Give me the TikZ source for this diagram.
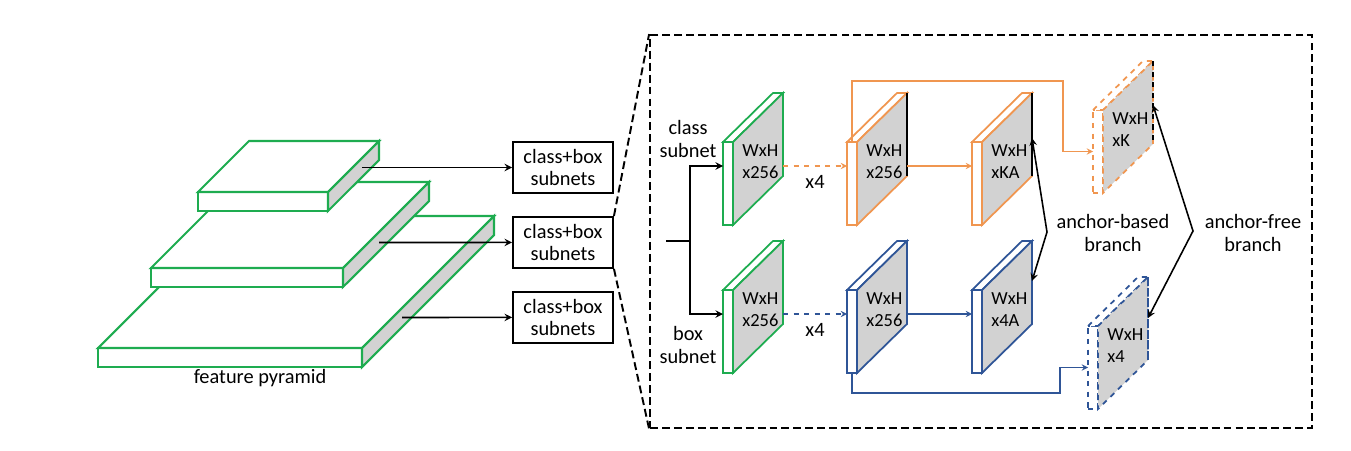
\documentclass[tikz,border=0pt]{standalone}
\usepackage{fontspec}
\setmainfont{Carlito}
\usepackage{tikz}
\usetikzlibrary{positioning}
\definecolor{mapgreen}{RGB}{30,172,80}
\definecolor{maporange}{RGB}{240,150,80}
\definecolor{mapblue}{RGB}{47,85,151}
\definecolor{facegray}{RGB}{210,210,210}

\begin{document}
\begin{tikzpicture}[
    % one unit is one pixel of the original figure
    x=0.02cm, y=-0.02cm,
    >=stealth,
    font=\fontsize{11.6}{12.8}\selectfont,
    slab/.style={
        draw=mapgreen,
        line width=1.2pt,
        fill=white,
        minimum height=0.38cm,
        inner sep=0pt,
        outer sep=0pt,
        anchor=north west
    },
    slabface/.style={draw=mapgreen, line width=1.2pt},
    subnetbox/.style={
        draw,
        line width=1.1pt,
        minimum width=2cm,
        minimum height=1.02cm,
        align=center,
        inner sep=0pt
    },
    fmap/.style={
        line width=1pt,
        fill=white,
        minimum width=0.2cm,
        minimum height=1.66cm,
        inner sep=0pt,
        outer sep=0pt,
        anchor=north west
    },
    maptext/.style={align=left, inner sep=0pt, font=\fontsize{10.5}{12.6}\selectfont},
    zoomline/.style={line width=1.1pt, dash pattern=on 4.5pt off 2.3pt},
    link/.style={->, line width=0.6pt}
]
    \useasboundingbox (0,0) rectangle (1351,450);

    % --- FEATURE PYRAMID (drawn from the bottom level up) ---
    \foreach \name/\x/\y/\w/\d/\ax/\ay in {
        lvl-c/98/348/264/132/402/317.5,
        lvl-b/151/268/192/86/379/242.5,
        lvl-a/198/192/130/51/362/167.5} {

        \node (\name) [slab, minimum width=\w*0.02cm] at (\x,\y) {};
        \draw[slabface, fill=white] (\name.north west) -- ++(\d,-\d) -- ++(\w,0) -- (\name.north east) -- cycle;
        \draw[slabface, fill=facegray] (\name.north east) -- ++(\d,-\d) -- ++(0,19) -- (\name.south east) -- cycle;
        \coordinate (\name-out) at (\ax,\ay);
    }
    \node (pyr-label) at (260,378) {feature pyramid};

    % --- SUBNET BOXES ---
    \node (sub-a) [subnetbox] at (563,167.5) {class+box\\subnets};
    \node (sub-b) [subnetbox, below=0.44cm of sub-a] {class+box\\subnets};
    \node (sub-c) [subnetbox, below=0.44cm of sub-b] {class+box\\subnets};

    \draw[link, line width=0.9pt] (lvl-a-out) -- (sub-a);
    \draw[link, line width=0.9pt] (lvl-b-out) -- (sub-b);
    \draw[link, line width=0.9pt] (lvl-c-out) -- (sub-c);

    % --- DETAIL PANEL ---
    \node (detail) [draw, zoomline, minimum width=13.24cm, minimum height=7.86cm, inner sep=0pt] at (981,231.5) {};
    \draw[zoomline] (sub-b.north east) -- (detail.north west);
    \draw[zoomline] (sub-b.south east) -- (detail.south west);

    % Feature maps: thin white front, white top, gray side face
    \foreach \name/\x/\y/\col/\edge/\lstyle/\txt in {
        cls-a/723/142/mapgreen/mapgreen/solid/x256,
        box-a/723/290/mapgreen/mapgreen/solid/x256,
        cls-b/847/142/maporange/black/solid/x256,
        cls-c/972/142/maporange/black/solid/xKA,
        box-b/847/290/mapblue/mapblue/solid/x256,
        box-c/972/290/mapblue/mapblue/solid/x4A,
        cls-d/1093/110/maporange/black/dashed/xK,
        box-d/1088/326/mapblue/mapblue/dashed/x4} {

        \node (\name) [fmap, draw=\col, \lstyle] at (\x,\y) {};
        \draw[\col, line width=1pt, fill=white, \lstyle] (\name.north west) -- ++(50,-49) -- ++(10,0) -- (\name.north east) -- cycle;
        \draw[\col, line width=1pt, fill=facegray, \lstyle] (\name.north east) -- ++(50,-49) -- ++(0,83) -- (\name.south east) -- cycle;
        \path (\name.north east) ++(50,-49) coordinate (\name-top);
        \draw[\edge, line width=1pt, \lstyle] (\name-top) -- ++(0,83);
        \path (\name.north west) ++(0,24) coordinate (\name-in);
        \path (\name.north east) ++(50,24) coordinate (\name-out);
        \node (\name-text) [maptext, anchor=west] at ([shift={(9,20)}]\name.north east) {WxH\\\txt};
    }

    % Input split into the two subnets
    \coordinate (trunk-in) at (666,241);
    \coordinate (trunk) at (690,241);
    \draw[line width=0.9pt] (trunk-in) -- (trunk);
    \draw[link, line width=0.9pt] (trunk) |- (cls-a-in);
    \draw[link, line width=0.9pt] (trunk) |- (box-a-in);
    \node (cls-label) [align=center] at (688,139) {class\\subnet};
    \node (box-label) [align=center] at (688,345) {box\\subnet};

    % Class and box heads
    \draw[link, maporange, dashed] (cls-a-out) -- (cls-b-in)
        node[midway, below=2pt, text=black] {x4};
    \draw[link, maporange] (cls-b-out) -- (cls-c-in);
    \draw[link, mapblue, dashed] (box-a-out) -- (box-b-in)
        node[midway, below=2pt, text=black] {x4};
    \draw[link, mapblue] (box-b-out) -- (box-c-in);

    % Routes to the anchor-free heads
    \coordinate (free-top) at (1063,81);
    \coordinate (free-bot) at (1060,393);
    \draw[link, maporange] (cls-b.north) |- (free-top) |- (cls-d.west);
    \draw[link, mapblue] (box-b.south) |- (free-bot) |- (box-d.west);

    % Branch brackets
    \coordinate (based-bend) at (1047,232);
    \coordinate (free-bend) at (1193,231);
    \draw[<->, line width=0.9pt] ([yshift=-0.9cm]cls-c-top) -- (based-bend) -- ([yshift=-0.8cm]box-c-top);
    \draw[<->, line width=0.9pt] ([yshift=-0.88cm]cls-d-top) -- (free-bend) -- ([yshift=-0.82cm]box-d-top);
    \node (based-label) [align=center] at (1113,233) {anchor-based\\branch};
    \node (free-label) [align=center] at (1253,233) {anchor-free\\branch};
\end{tikzpicture}
\end{document}
